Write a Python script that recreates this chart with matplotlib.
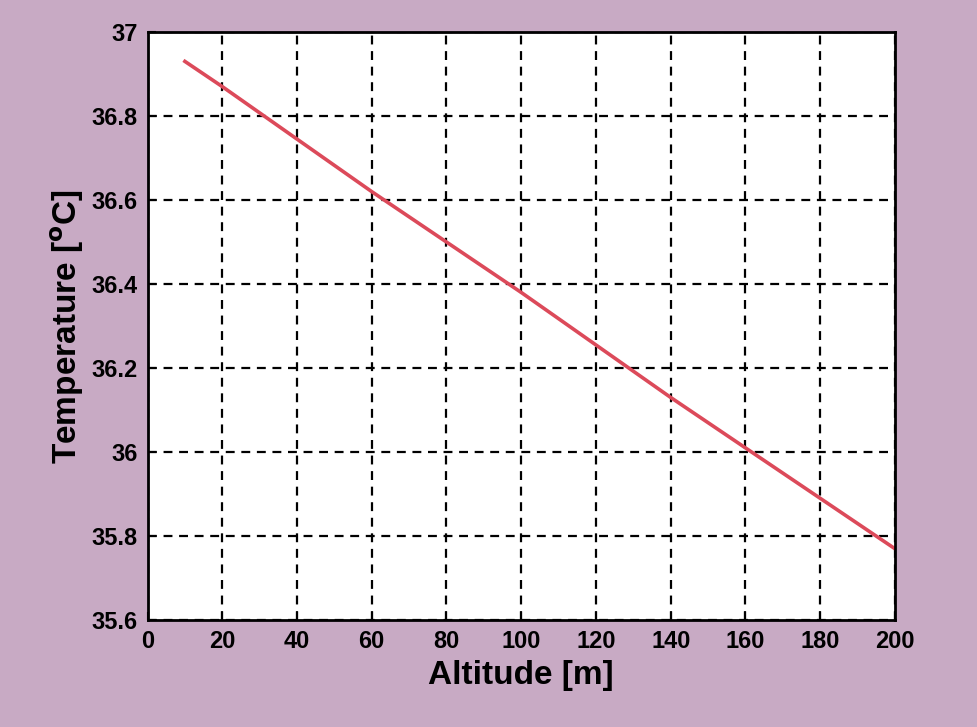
import matplotlib
matplotlib.use("Agg")
import matplotlib.pyplot as plt

altitude = [10, 20, 60, 100, 140, 180, 200]
temperature = [36.93, 36.87, 36.62, 36.38, 36.13, 35.89, 35.77]
xticks = [0, 20, 40, 60, 80, 100, 120, 140, 160, 180, 200]
yticks = [35.6, 35.8, 36.0, 36.2, 36.4, 36.6, 36.8, 37.0]
ytick_labels = ["35.6", "35.8", "36", "36.2", "36.4", "36.6", "36.8", "37"]

plt.rcParams['font.family'] = ['Liberation Sans', 'DejaVu Sans']

fig = plt.figure(figsize=(9.77, 7.27), dpi=100, facecolor='#c8aac4')
ax = fig.add_axes([0.151, 0.147, 0.765, 0.809])
ax.set_facecolor('white')
ax.plot(altitude, temperature, color='#dc4a5a', linewidth=2.6)
ax.set_xlim(0, 200)
ax.set_ylim(35.6, 37.0)
ax.set_xticks(xticks)
ax.set_yticks(yticks)
ax.set_yticklabels(ytick_labels)
ax.grid(True, color='black', linestyle=(0, (4, 3)), linewidth=1.6)
ax.tick_params(direction='in', length=6, width=1.5, labelsize=17, pad=7)
for lab in ax.get_xticklabels() + ax.get_yticklabels():
    lab.set_fontweight('bold')
for sp in ax.spines.values():
    sp.set_linewidth(2)
ax.set_xlabel('Altitude [m]', fontsize=24, fontweight='bold', labelpad=5)
ax.set_ylabel('Temperature [$\\mathbf{^{o}}$C]', fontsize=24, fontweight='bold', labelpad=4)
fig.savefig('out.png', dpi=100, facecolor=fig.get_facecolor())
